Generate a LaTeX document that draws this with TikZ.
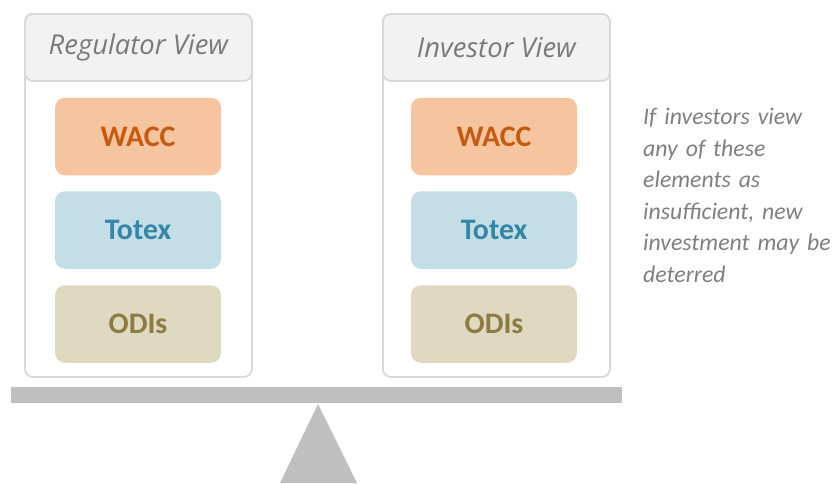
\documentclass[tikz,border=0pt]{standalone}
\usepackage{fontspec}
\setmainfont{Carlito}
\newfontfamily\headfont{Open Sans}
\definecolor{panelline}{HTML}{D9D9D9}
\definecolor{headfill}{HTML}{F2F2F2}
\definecolor{headtext}{HTML}{7A7A7A}
\definecolor{notetext}{HTML}{7F7F7F}
\definecolor{waccfill}{HTML}{F7C4A0}
\definecolor{wacctext}{HTML}{C55A11}
\definecolor{totexfill}{HTML}{C4DEE8}
\definecolor{totextext}{HTML}{3586A4}
\definecolor{odifill}{HTML}{DFD9C2}
\definecolor{oditext}{HTML}{8B7D42}
\definecolor{beamgray}{HTML}{BFBFBF}
\begin{document}
\begin{tikzpicture}[x=1pt,y=-1pt,
  panel/.style={draw=panelline, line width=1.8pt, rounded corners=8pt, fill=white,
    minimum width=227pt, minimum height=363pt, inner sep=0pt, anchor=north west},
  header/.style={panel, fill=headfill, minimum height=67pt,
    font=\headfont\fontsize{27.4}{32}\selectfont\itshape, text=headtext},
  item/.style={rounded corners=10pt, minimum width=166pt, minimum height=77.5pt,
    inner sep=0pt, font=\fontsize{29.8}{34}\selectfont\bfseries},
  wacc/.style={item, fill=waccfill, text=wacctext},
  totex/.style={item, fill=totexfill, text=totextext},
  odi/.style={item, fill=odifill, text=oditext},
  note/.style={anchor=base west, inner sep=0pt, text width=200pt, align=left,
    font=\fontsize{23.8}{31.6}\selectfont\itshape, text=notetext}
]
\useasboundingbox (0,0) rectangle (833,483);
% left panel
\node[panel] (lpanel) at (24,13) {};
\node[header] (lhead) at (24,13) {Regulator View};
\node[wacc] (lwacc) at (138,136.5) {WACC};
\node[totex] (ltotex) at (138,230) {Totex};
\node[odi] (lodi) at (138,324) {ODIs};
% right panel
\node[panel] (rpanel) at (382,13) {};
\node[header] (rhead) at (382,13) {Investor View};
\node[wacc] (rwacc) at (494,136.5) {WACC};
\node[totex] (rtotex) at (494,230) {Totex};
\node[odi] (rodi) at (494,324) {ODIs};
% note
\node[note] (note) at (643,124.5) {If investors view\\any of these\\elements as\\insufficient, new\\investment may be\\deterred};
% balance
\node[fill=beamgray, inner sep=0pt, minimum width=611pt, minimum height=16pt, anchor=north west] (beam) at (11,387) {};
\fill[beamgray] (318,404) -- (280,483) -- (357,483) -- cycle;
\end{tikzpicture}
\end{document}
